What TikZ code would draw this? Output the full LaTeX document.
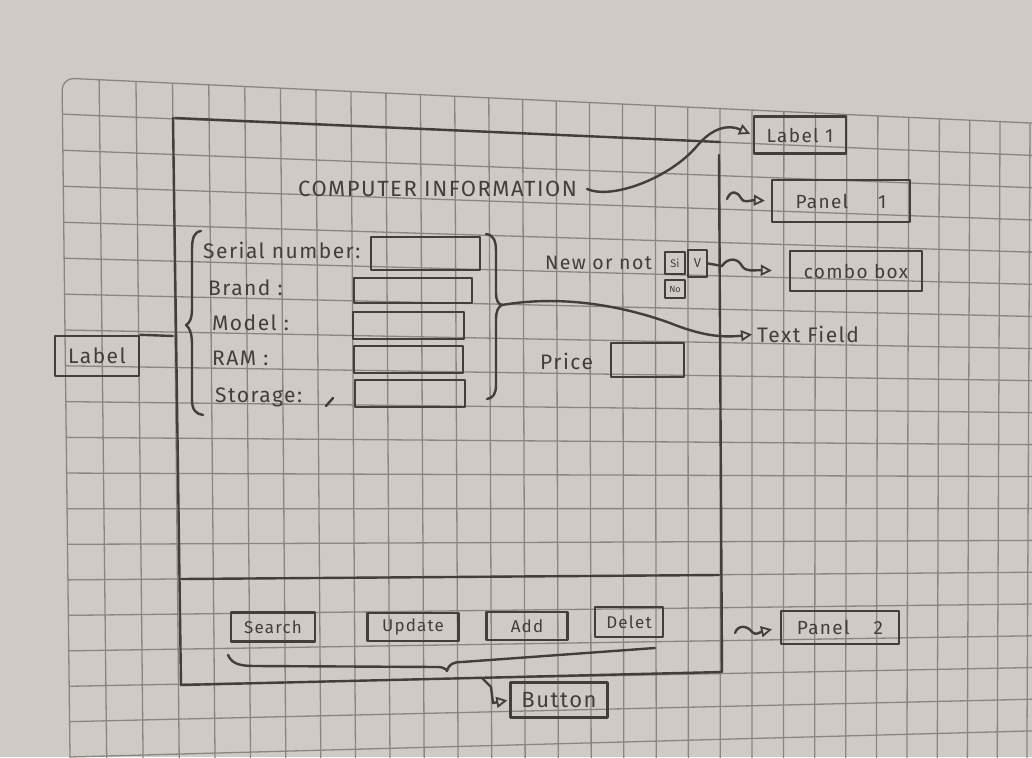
\documentclass[tikz,border=0pt]{standalone}
\usepackage{fontspec}
\setmainfont{Fira Sans}
\newfontfamily\handfont[LetterSpace=7]{Fira Sans}
\usetikzlibrary{arrows.meta}
\definecolor{paper}{HTML}{CFCAC6}
\definecolor{gridc}{HTML}{8A8581}
\definecolor{pencil}{HTML}{423E3C}

% projective map of grid cell (u,v) onto the sheet
\newcommand\gridpt[2]{%
  \pgfmathsetmacro\gs{#1/29}%
  \pgfmathsetmacro\gt{#2/19}%
  \pgfmathsetmacro\gw{0.11728*\gs+0.011862*\gt+1}%
  \pgfmathsetmacro\gx{(1088.8*\gs+8.83*\gt+62)/\gw}%
  \pgfmathsetmacro\gy{(59.43*\gs+687.98*\gt+78)/\gw}}

\begin{document}
\begin{tikzpicture}[x=1pt,y=-1pt,
  pen/.style={draw=pencil,line width=2.4pt,line cap=round,line join=round},
  gridline/.style={draw=gridc,line width=1.3pt},
  hand/.style={text=pencil,font=\handfont\fontsize{21}{21}\selectfont,inner sep=0pt},
  sbox/.style={pen,rectangle,inner sep=0pt,text=pencil,font=\handfont\fontsize{19}{19}\selectfont},
  field/.style={pen,rectangle,inner sep=0pt},
  tip/.style={-{Triangle[open,length=11pt,width=11pt,line width=1.8pt]}},
]
\useasboundingbox (0,0) rectangle (1032,757);
\fill[paper] (0,0) rectangle (1032,757);

% squared paper
\begin{scope}
  \clip (0,0) rectangle (1032,757);
  \foreach \u in {1,...,30}{
    \gridpt{\u}{0}\coordinate (ga) at (\gx,\gy);
    \gridpt{\u}{21}\coordinate (gb) at (\gx,\gy);
    \draw[gridline] (ga) -- (gb);}
  \foreach \v in {1,...,21}{
    \gridpt{0}{\v}\coordinate (ga) at (\gx,\gy);
    \gridpt{30}{\v}\coordinate (gb) at (\gx,\gy);
    \draw[gridline] (ga) -- (gb);}
  \gridpt{0}{21}\coordinate (c1) at (\gx,\gy);
  \gridpt{0}{0}\coordinate (c0) at (\gx,\gy);
  \gridpt{30}{0}\coordinate (c2) at (\gx,\gy);
  \draw[gridline,rounded corners=12pt] (c1) -- (c0) -- (c2);
\end{scope}

% window frame
\draw[pen] (175,118) -- (720,142);
\draw[pen] (173,118) -- (181,685) -- (722,672) -- (719,155);
\draw[pen] (181,579) -- (719,575);

% title
\node[hand,anchor=west,font=\handfont\fontsize{22}{22}\selectfont] (title) at (298,189) {COMPUTER INFORMATION};

% form labels
\node[hand,anchor=west] (serial)  at (203,250) {Serial number:};
\node[hand,anchor=west] (brand)   at (208,288) {Brand :};
\node[hand,anchor=west] (model)   at (212,323) {Model :};
\node[hand,anchor=west] (ram)     at (212,358) {RAM :};
\node[hand,anchor=west] (storage) at (215,397) {Storage:};
\draw[pen] (326,406) -- (333,398);

% text fields
\node[field,minimum width=109,minimum height=33] (f1) at (425.5,253.5) {};
\node[field,minimum width=118,minimum height=25] (f2) at (413,290.5) {};
\node[field,minimum width=111,minimum height=27] (f3) at (408.5,325.5) {};
\node[field,minimum width=109,minimum height=27] (f4) at (408.5,359.5) {};
\node[field,minimum width=110,minimum height=27] (f5) at (410,393.5) {};

% braces round the form
\draw[pen] (201,231) .. controls (194,232) and (192,238) .. (192,250) -- (192,308)
  .. controls (192,318) and (190,323) .. (186,325) .. controls (190,328) and (192,334) .. (192,345)
  -- (192,400) .. controls (192,410) and (196,414) .. (203,415);
\draw[pen] (486,234) .. controls (494,235) and (496,241) .. (496,252) -- (496,293)
  .. controls (496,300) and (498,304) .. (502,305) .. controls (498,307) and (496,311) .. (496,320)
  -- (496,385) .. controls (496,394) and (493,398) .. (487,399);
\coordinate (rbtip) at (502,305);

% new or not / price
\node[hand,anchor=west,font=\handfont\fontsize{19.5}{19.5}\selectfont] (newornot) at (545,263) {New or not};
\node[sbox,minimum width=20,minimum height=22,font=\fontsize{11}{11}\selectfont] (si) at (675,263) {Si};
\node[sbox,minimum width=19,minimum height=27,font=\fontsize{13}{13}\selectfont] (vbox) at (697.5,263.5) {V};
\node[sbox,minimum width=20,minimum height=18,font=\fontsize{9}{9}\selectfont] (no) at (675,289) {No};
\node[hand,anchor=west] (price) at (540,361) {Price};
\node[field,minimum width=73,minimum height=34] (pricebox) at (647.5,360) {};

% action buttons
\node[sbox,minimum width=84,minimum height=29,font=\handfont\fontsize{17}{17}\selectfont] (search) at (273,627) {Search};
\node[sbox,minimum width=91,minimum height=28,font=\handfont\fontsize{17}{17}\selectfont] (update) at (413,627) {Update};
\node[sbox,minimum width=81,minimum height=28,font=\handfont\fontsize{17}{17}\selectfont] (add)    at (527,626) {Add};
\node[sbox,minimum width=68,minimum height=30,font=\handfont\fontsize{17}{17}\selectfont] (delet)  at (629,622) {Delet};
\draw[pen] (228,655) .. controls (232,664) and (240,666) .. (255,666) -- (438,667)
  .. controls (443,667) and (446,669) .. (447,671) .. controls (449,664) and (453,662) .. (462,662) -- (655,648);

% component annotations
\node[sbox,minimum width=92,minimum height=37] (lab1) at (800,135) {Label 1};
\node[sbox,minimum width=138,minimum height=42] (pan1) at (841,201) {Panel\hspace{30pt}1};
\node[sbox,minimum width=132,minimum height=40] (combo) at (856,271) {combo box};
\node[hand,anchor=west] (tfl) at (757,334) {Text Field};
\node[sbox,minimum width=118,minimum height=33] (pan2) at (840,627.5) {Panel\hspace{24pt}2};
\node[sbox,minimum width=84,minimum height=40,font=\handfont\fontsize{21}{21}\selectfont] (leftlab) at (97,356) {Label};
\node[sbox,minimum width=97,minimum height=35,font=\handfont\fontsize{22}{22}\selectfont] (btn) at (559,700) {Button};

% connectors
\draw[pen,tip,shorten >=3pt] ([xshift=10pt]title.east) .. controls (612,200) and (670,178) .. (697,146)
  .. controls (712,128) and (728,124) .. (lab1.west);
\coordinate (p1s) at (727,199);
\draw[pen,tip,shorten >=6pt] (p1s) .. controls (731,189) and (738,192) .. (741,198)
  .. controls (744,204) and (750,200) .. (pan1.west);
\draw[pen,tip,shorten >=17pt] (vbox.east) -- (722,266) .. controls (728,257) and (738,258) .. (742,266)
  .. controls (746,272) and (752,270) .. (combo.west);
\draw[pen,tip,shorten >=5pt] (rbtip) .. controls (560,295) and (620,305) .. (670,323)
  .. controls (700,335) and (720,338) .. (tfl.west);
\coordinate (p2s) at (735,633);
\draw[pen,tip,shorten >=8pt] (p2s) .. controls (738,624) and (748,626) .. (752,632)
  .. controls (756,636) and (760,632) .. (pan2.west);
\coordinate (lle) at (173,336);
\draw[pen] (leftlab.north east) -- (lle);
\coordinate (bs) at (482,678);
\draw[pen,tip,shorten >=2pt] (bs) -- (491,687) -- (493,703) -- (btn.west);
\end{tikzpicture}
\end{document}
